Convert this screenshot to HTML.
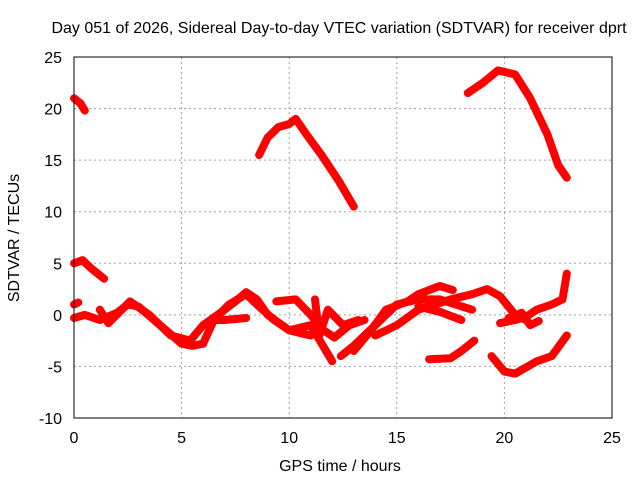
<!DOCTYPE html>
<html><head><meta charset="utf-8"><style>
body{margin:0;background:#fff}
svg text{font-family:"Liberation Sans",sans-serif;font-size:16px;fill:#000}
</style></head><body>
<svg width="640" height="480" xmlns="http://www.w3.org/2000/svg">
<rect width="640" height="480" fill="#fff"/>
<g id="grid"></g>
<g id="tracks"></g>
<rect x="74" y="57" width="538" height="361" fill="none" stroke="#000" stroke-width="1"/>
<g id="ticks"></g>
<text x="339" y="33" text-anchor="middle">Day 051 of 2026, Sidereal Day-to-day VTEC variation (SDTVAR) for receiver dprt</text>
<text x="340" y="471" text-anchor="middle">GPS time / hours</text>
<text x="19" y="238" text-anchor="middle" transform="rotate(-90 19 238)">SDTVAR / TECUs</text>
</svg>
<script>
const xTicks=[0,5,10,15,20,25];
const yTicks=[-10,-5,0,5,10,15,20,25];
const trackHours=[
[0,0.3,0.5],
[8.6,9,9.5,10,10.3,10.8,11.5,12.3,13],
[18.3,19,19.7,20.5,21.2,22,22.5,22.9],
[0,0.4,0.8,1.4],
[0,0.5,1.2,2,2.5,3,4,5,5.5,6,6.5,7.2,8,8.5,9.3,10,11,12],
[0,0.2],
[1.2,1.6,2.6,3.5,4.5,5.4,6,7,7.5,8,8.5,9,10,11],
[6.5,7,8],
[9.4,10.3,11,11.6,12.1,12.8,13.5],
[12.4,13,14,15,16,17,18.5],
[11.2,11.4,11.8,12.5,13.2],
[13,13.8,14.5,15.5,16,17,17.6],
[14,15,16,17.5,18.5,19.2,19.8,20.5,21],
[16.5,17.5,18,18.6],
[19.4,20,20.5,21.5,22.2,22.9],
[19.8,20.5,21,21.5,22.2,22.7,22.9],
[16,17,18],
[20.2,20.8,21.2,21.6]
];
const trackValues=[
[21,20.5,19.8],
[15.5,17.2,18.2,18.5,19,17.5,15.5,13,10.5],
[21.5,22.5,23.7,23.3,21,17.5,14.5,13.3],
[5,5.3,4.5,3.5],
[-0.3,0,-0.5,0.2,1,0.8,-1,-2.8,-3,-2.8,-0.5,1,2,1,-0.5,-1.5,-1,-4.5],
[1,1.2],
[0.5,-0.8,1.3,0,-2,-2.5,-1,0.5,1.3,2.2,1.5,0,-1.5,-2],
[-0.5,-0.5,-0.3],
[1.3,1.5,0,-1.5,-2.2,-1,-0.5],
[-4,-3,-1,1,1.5,1.5,0.5],
[1.5,-2,0.5,-1,-0.5],
[-3.5,-1.5,0.5,1.3,2,2.8,2.4],
[-2,-1,0.5,1.5,2,2.5,1.8,0,-0.5],
[-4.3,-4.2,-3.5,-2.5],
[-4,-5.5,-5.7,-4.5,-4,-2],
[-0.8,-0.5,-0.2,0.5,1,1.5,4],
[0.8,0.3,-0.5],
[-0.3,0.2,-1,-0.6]
];
const X=h=>74+h*538/25, Y=v=>57+(25-v)*361/35;
const NS='http://www.w3.org/2000/svg';
const grid=document.getElementById('grid'),ticks=document.getElementById('ticks'),tr=document.getElementById('tracks');
function mk(tag,attrs,parent){const e=document.createElementNS(NS,tag);for(const k in attrs)e.setAttribute(k,attrs[k]);parent.appendChild(e);return e;}
xTicks.forEach(t=>{
  if(t>0&&t<25){const g=mk('line',{x1:X(t),x2:X(t),y1:57,y2:418,stroke:'#a0a0a0','stroke-dasharray':'2,3'},grid);
  
  }
  const l=mk('text',{x:X(t),y:443,'text-anchor':'middle'},ticks);l.textContent=t;
  
  
});
yTicks.forEach(t=>{
  if(t>-10&&t<25){const g=mk('line',{x1:74,x2:612,y1:Y(t),y2:Y(t),stroke:'#a0a0a0','stroke-dasharray':'2,3'},grid);
  
  }
  const l=mk('text',{x:62,y:Y(t)+6,'text-anchor':'end'},ticks);l.textContent=t;
  
  
});
trackHours.forEach((hs,i)=>{
  const pts=hs.map((h,j)=>X(h).toFixed(1)+','+Y(trackValues[i][j]).toFixed(1)).join(' ');
  const p=mk('polyline',{points:pts,fill:'none',stroke:'#f00','stroke-width':8,'stroke-linejoin':'round','stroke-linecap':'round'},tr);
  
  
});
</script>
</body></html>
